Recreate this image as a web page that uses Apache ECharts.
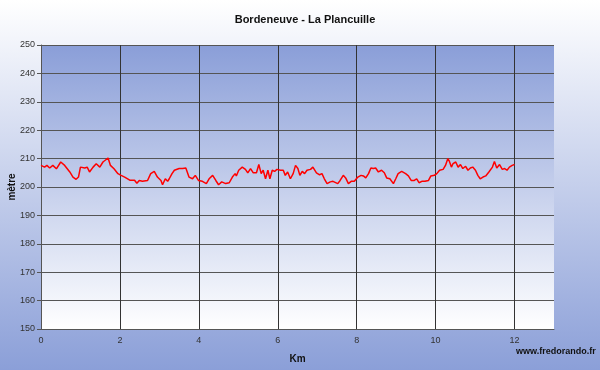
<!DOCTYPE html>
<html>
<head>
<meta charset="utf-8">
<script src="https://cdn.jsdelivr.net/npm/echarts@6/dist/echarts.min.js"></script>
<style>html,body{margin:0;padding:0;}#c{width:600px;height:370px;}</style>
</head>
<body>
<div id="c"></div>
<script>
var title = "Bordeneuve - La Plancuille";
var yName = "mètre";
var xName = "Km";
var credit = "www.fredorando.fr";
var km = [0.00,0.09,0.15,0.22,0.30,0.39,0.50,0.60,0.73,0.81,0.89,0.95,1.00,1.11,1.17,1.23,1.32,1.40,1.49,1.57,1.70,1.76,1.85,1.95,2.03,2.12,2.25,2.37,2.43,2.49,2.57,2.70,2.78,2.87,2.95,3.04,3.08,3.15,3.21,3.25,3.32,3.38,3.43,3.50,3.59,3.67,3.75,3.84,3.91,3.99,4.09,4.19,4.26,4.35,4.43,4.50,4.58,4.68,4.77,4.85,4.92,4.95,5.01,5.10,5.18,5.24,5.31,5.38,5.46,5.52,5.58,5.63,5.69,5.75,5.80,5.86,5.92,5.98,6.07,6.14,6.19,6.25,6.32,6.39,6.45,6.51,6.56,6.62,6.68,6.74,6.83,6.89,6.98,7.06,7.12,7.18,7.25,7.33,7.40,7.45,7.52,7.58,7.66,7.72,7.79,7.86,7.94,8.03,8.11,8.17,8.23,8.30,8.36,8.42,8.48,8.55,8.63,8.70,8.76,8.84,8.93,8.99,9.05,9.14,9.18,9.24,9.31,9.38,9.46,9.52,9.58,9.65,9.73,9.82,9.88,9.92,9.97,10.03,10.10,10.19,10.25,10.31,10.35,10.40,10.44,10.51,10.57,10.63,10.69,10.76,10.82,10.88,10.94,11.01,11.07,11.13,11.20,11.27,11.35,11.44,11.49,11.55,11.62,11.69,11.75,11.81,11.87,11.94,12.00];
var altitude = [207.6,207.0,207.6,206.7,207.6,206.4,208.8,207.6,205.3,203.5,202.7,203.5,207.0,206.7,207.0,205.3,207.0,208.2,207.0,208.8,210.2,207.6,206.4,204.7,204.1,203.5,202.4,202.4,201.3,202.3,202.0,202.3,204.7,205.5,203.5,202.3,200.8,202.9,202.0,202.9,204.7,205.9,205.3,206.5,206.5,206.7,203.5,202.9,204.1,202.3,202.0,201.2,202.9,204.1,202.3,200.8,201.8,201.2,201.5,203.5,204.7,203.9,205.9,207.0,206.2,205.0,206.5,205.0,205.0,207.9,204.7,205.9,202.9,205.9,202.9,205.9,205.5,206.2,205.9,205.9,204.1,205.3,202.9,204.7,207.6,206.5,204.1,205.5,204.7,205.9,206.2,207.0,205.0,204.3,204.7,202.9,201.2,201.8,202.0,201.8,201.2,202.3,204.1,203.2,201.2,202.0,202.0,203.5,204.1,203.9,203.2,204.7,206.7,206.5,206.7,205.3,205.9,205.0,203.2,202.9,201.2,202.9,204.7,205.5,205.9,204.7,203.9,202.3,202.3,202.9,201.5,202.0,202.0,202.3,203.9,203.9,204.1,204.7,205.9,206.2,207.6,210.0,209.0,207.0,208.2,208.8,207.0,207.9,206.5,207.3,205.9,206.7,207.0,205.9,204.1,202.9,203.5,203.9,205.3,207.0,209.0,206.7,207.9,206.2,206.5,205.9,207.0,207.6,207.9];

var chart = echarts.init(document.getElementById('c'), null, {renderer: 'canvas'});
var data = km.map(function (k, i) { return [k, altitude[i]]; });
chart.setOption({
  animation: false,
  backgroundColor: new echarts.graphic.LinearGradient(0, 0, 0, 1, [
    {offset: 0, color: '#ffffff'}, {offset: 1, color: '#8b9fd8'}
  ]),
  title: {
    text: title, left: 300, top: 9, textAlign: 'center',
    textStyle: {fontFamily: 'Liberation Sans', fontSize: 11, fontWeight: 'bold', color: '#111'}
  },
  graphic: [{
    type: 'text', left: 516, top: 347,
    style: {text: credit, font: 'bold 9px "Liberation Sans"', fill: '#111'}
  }],
  grid: {
    left: 41, right: 46, top: 45, bottom: 41, show: true, borderWidth: 0,
    outerBoundsMode: 'none', containLabel: false,
    backgroundColor: new echarts.graphic.LinearGradient(0, 0, 0, 1, [
      {offset: 0, color: '#8a9ed8'}, {offset: 1, color: '#ffffff'}
    ])
  },
  xAxis: {
    type: 'value', min: 0, max: 13, interval: 2,
    name: xName, nameLocation: 'middle', nameGap: 25, nameMoveOverlap: false,
    nameTextStyle: {fontFamily: 'Liberation Sans', fontSize: 10, fontWeight: 'bold', color: '#111'},
    axisLine: {show: true, lineStyle: {color: '#555', width: 1}},
    axisTick: {show: false},
    axisLabel: {showMaxLabel: false, fontFamily: 'Liberation Sans', fontSize: 9, color: '#333', margin: 7},
    splitLine: {show: true, showMaxLine: false, lineStyle: {color: '#333', width: 1}}
  },
  yAxis: {
    type: 'value', min: 150, max: 250, interval: 10,
    name: yName, nameLocation: 'middle', nameGap: 24, nameRotate: 90, nameMoveOverlap: false,
    nameTextStyle: {fontFamily: 'Liberation Sans', fontSize: 10, fontWeight: 'bold', color: '#111'},
    axisLine: {show: true, lineStyle: {color: '#555', width: 1}},
    axisTick: {show: true, length: 4, lineStyle: {color: '#555'}},
    axisLabel: {fontFamily: 'Liberation Sans', fontSize: 9, color: '#333', margin: 6},
    splitLine: {show: true, lineStyle: {color: '#555', width: 1.2}}
  },
  series: [{
    type: 'line', data: data, showSymbol: false, smooth: false,
    lineStyle: {color: '#ff0000', width: 1.5}
  }]
});
</script>
</body>
</html>
